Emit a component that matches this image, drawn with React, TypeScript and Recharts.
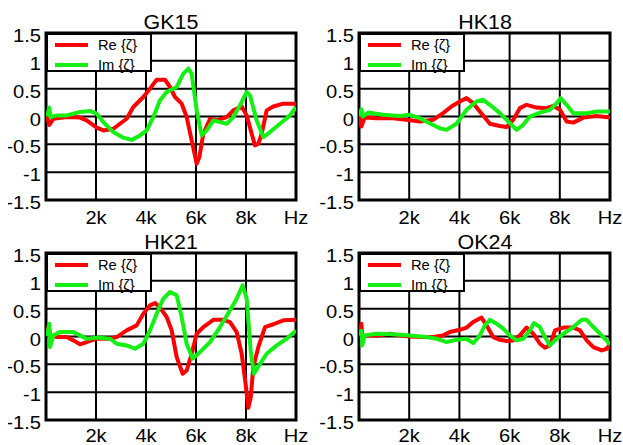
import React from 'react';
import { LineChart, Line, XAxis, YAxis, CartesianGrid, ReferenceArea } from 'recharts';

// frequency axis (Hz) and reflection-factor ticks
const xTicks = [2000, 4000, 6000, 8000, 10000];
const xTickLabels = ['2k', '4k', '6k', '8k', 'Hz'];
const yTicks = [-1.5, -1, -0.5, 0, 0.5, 1, 1.5];
const yTickLabels = ['-1.5', '-1', '-0.5', '0', '0.5', '1', '1.5'];

// GK15
const gk15ReF = [40, 133, 293, 827, 1360, 1627, 2027, 2293, 2693, 3227, 3493, 3893, 4160, 4427, 4760, 4960, 5160, 5427, 5627, 5827, 6027, 6133, 6293, 6560, 6827, 7227, 7493, 7827, 8027, 8227, 8360, 8493, 8627, 8827, 9093, 9493, 10000];
const gk15Re = [0, -0.15, -0.04, -0.01, -0.02, -0.07, -0.2, -0.25, -0.22, -0.04, 0.17, 0.35, 0.5, 0.66, 0.66, 0.53, 0.35, 0.23, -0.01, -0.43, -0.85, -0.73, -0.31, -0.04, -0.07, -0.01, 0.11, 0.18, 0.02, -0.31, -0.52, -0.49, -0.31, 0.11, 0.18, 0.23, 0.23];
const gk15ImF = [40, 133, 187, 427, 827, 1360, 1760, 2027, 2293, 2693, 3093, 3427, 3760, 4027, 4293, 4560, 4827, 5227, 5493, 5693, 5827, 6027, 6227, 6427, 6693, 6960, 7227, 7493, 7760, 8027, 8160, 8427, 8693, 8960, 9360, 9760, 10000];
const gk15Im = [0, 0.16, -0.01, 0.02, 0.02, 0.08, 0.1, 0.05, -0.1, -0.28, -0.38, -0.42, -0.34, -0.25, -0.01, 0.29, 0.44, 0.53, 0.77, 0.86, 0.77, 0.11, -0.34, -0.25, -0.07, -0.1, -0.13, -0.01, 0.2, 0.44, 0.38, -0.07, -0.37, -0.28, -0.13, 0.02, 0.17];

// HK18
const hk18ReF = [27, 93, 226, 692, 1357, 1889, 2421, 2953, 3352, 3684, 4017, 4283, 4549, 4815, 5214, 5613, 5879, 6144, 6410, 6676, 7075, 7474, 7740, 8006, 8272, 8538, 8937, 9469, 10000];
const hk18Re = [0, -0.18, -0.02, -0.03, -0.03, -0.06, -0.09, -0.06, 0.06, 0.18, 0.27, 0.33, 0.24, 0.09, -0.13, -0.17, -0.19, -0.06, 0.15, 0.21, 0.16, 0.15, 0.19, 0.12, -0.09, -0.11, -0.02, 0.01, -0.02];
const hk18ImF = [27, 93, 160, 359, 958, 1623, 2022, 2421, 2820, 3219, 3485, 3884, 4283, 4682, 4948, 5214, 5613, 6012, 6278, 6543, 6809, 7208, 7607, 7873, 8033, 8272, 8538, 9070, 9469, 10000];
const hk18Im = [0, 0.13, 0, 0.07, 0.03, 0.01, 0.03, -0.03, -0.12, -0.21, -0.24, -0.13, 0.12, 0.27, 0.3, 0.21, 0.06, -0.12, -0.24, -0.15, 0, 0.07, 0.12, 0.24, 0.33, 0.21, 0.06, 0.06, 0.09, 0.09];

// HK21
const hk21ReF = [40, 120, 160, 427, 827, 1093, 1360, 1627, 2027, 2560, 2827, 3227, 3627, 3893, 4160, 4360, 4560, 4827, 5027, 5227, 5467, 5627, 5827, 6027, 6293, 6693, 7093, 7360, 7627, 7827, 7987, 8093, 8187, 8293, 8493, 8760, 9093, 9493, 10000];
const hk21Re = [0.05, 0.2, 0.02, -0.01, -0.01, -0.07, -0.14, -0.1, -0.04, -0.04, -0.01, 0.11, 0.2, 0.41, 0.56, 0.6, 0.52, 0.35, 0.11, -0.37, -0.67, -0.61, -0.31, 0.05, 0.17, 0.3, 0.3, 0.26, 0.08, -0.31, -0.86, -1.28, -1.1, -0.55, -0.19, 0.17, 0.22, 0.29, 0.3];
const hk21ImF = [40, 133, 160, 293, 560, 1093, 1360, 1627, 2027, 2560, 2827, 3227, 3560, 3893, 4160, 4427, 4693, 4960, 5227, 5427, 5627, 5867, 6160, 6560, 6960, 7360, 7627, 7867, 8027, 8187, 8320, 8560, 8827, 9227, 9627, 10000];
const hk21Im = [0, 0.23, -0.19, 0.02, 0.08, 0.08, 0.02, -0.04, -0.02, -0.04, -0.13, -0.16, -0.22, -0.13, 0.11, 0.41, 0.68, 0.8, 0.74, 0.35, -0.13, -0.4, -0.28, -0.1, 0.17, 0.47, 0.68, 0.92, 0.68, -0.25, -0.67, -0.49, -0.31, -0.16, -0.04, 0.11];

// OK24
const ok24ReF = [27, 93, 133, 293, 825, 1224, 1623, 2022, 2554, 2953, 3352, 3618, 4017, 4283, 4549, 4882, 5081, 5347, 5613, 5879, 6144, 6410, 6676, 6942, 7208, 7408, 7608, 7807, 8140, 8539, 8805, 9071, 9337, 9670, 9869, 10000];
const ok24Re = [0.02, 0.23, -0.01, 0.02, 0.02, 0.05, 0.02, 0, -0.01, -0.01, 0.02, 0.08, 0.12, 0.16, 0.26, 0.34, 0.2, -0.01, -0.06, -0.08, -0.07, 0.02, 0.16, 0.05, -0.13, -0.2, -0.16, 0.11, 0.16, 0.16, 0.11, -0.07, -0.19, -0.25, -0.22, -0.14];
const ok24ImF = [27, 93, 133, 226, 692, 1357, 2022, 2687, 3086, 3485, 3884, 4283, 4549, 4815, 5014, 5214, 5480, 5746, 6012, 6278, 6543, 6809, 6969, 7208, 7408, 7608, 7807, 8140, 8539, 8871, 9071, 9337, 9736, 10000];
const ok24Im = [0.02, 0.1, -0.16, 0.02, 0.05, 0.04, 0.02, -0.01, -0.04, -0.1, -0.06, -0.04, -0.12, 0.02, 0.2, 0.3, 0.23, 0.14, 0.02, -0.07, -0.04, 0.11, 0.24, 0.17, -0.01, -0.16, -0.07, 0.05, 0.17, 0.3, 0.3, 0.17, -0.01, -0.14];

const toPoints = (f: number[], v: number[]) => f.map((hz, i) => ({ hz, v: v[i] }));

const FONT = '"Liberation Sans", Arial, sans-serif';
const RED = '#ff0000';
const GREEN = '#14f014';
const seriesNames = ['Re {ζ}', 'Im {ζ}'];
const seriesColors = [RED, GREEN];

const CHART_H = 230;

const StretchText = ({ x, y, text, anchor, size, sx }: any) => (
  <text
    transform={`translate(${x},${y}) scale(${sx},1)`}
    textAnchor={anchor}
    fontSize={size}
    fontFamily={FONT}
    fill="#000"
  >
    {text}
  </text>
);

const XTick = ({ x, y, payload, dy }: any) => {
  const idx = xTicks.indexOf(payload.value);
  return <StretchText x={x} y={y + dy} text={xTickLabels[idx]} anchor="middle" size={17.5} sx={1.15} />;
};

const YTick = ({ x, y, payload }: any) => {
  const idx = yTicks.indexOf(payload.value);
  return <StretchText x={x - 5} y={y + 9} text={yTickLabels[idx]} anchor="end" size={17.5} sx={1.15} />;
};

// legend box drawn over the plot's top-left corner
const LegendBox = ({ left, top }: { left: number; top: number }) => (
  <div
    style={{
      position: 'absolute',
      left,
      top,
      width: 102,
      height: 35,
      border: '2px solid #000',
      background: '#fff',
      fontFamily: FONT,
      fontSize: 14,
    }}
  >
    {seriesNames.map((name, i) => (
      <div key={name} style={{ position: 'absolute', left: 7, top: 6 + i * 19.5, height: 16, width: 95 }}>
        <div style={{ position: 'absolute', left: 0, top: 2, width: 33, height: 4, background: seriesColors[i] }} />
        <div
          style={{
            position: 'absolute',
            left: 43,
            top: -4,
            lineHeight: '16px',
            whiteSpace: 'nowrap',
            transform: 'scaleX(1.05)',
            transformOrigin: 'left center',
          }}
        >
          {name}
        </div>
      </div>
    ))}
  </div>
);

interface PanelProps {
  title: string;
  left: number;
  top: number;
  width: number;
  axisWidth: number;
  rightMargin: number;
  labelDy: number;
  re: { hz: number; v: number }[];
  im: { hz: number; v: number }[];
}

function Panel({ title, left, top, width, axisWidth, rightMargin, labelDy, re, im }: PanelProps) {
  const plotCenter = axisWidth + (width - axisWidth - rightMargin) / 2;
  return (
    <div style={{ position: 'absolute', left, top, width, height: CHART_H }}>
      <div
        style={{
          position: 'absolute',
          left: plotCenter - 60,
          width: 120,
          top: 12,
          lineHeight: '20px',
          textAlign: 'center',
          fontFamily: FONT,
          fontSize: 19.5,
          transform: 'scaleX(1.1)',
        }}
      >
        {title}
      </div>
      <LineChart width={width} height={CHART_H} margin={{ top: 33, right: rightMargin, bottom: 0, left: 0 }}>
        <CartesianGrid stroke="#000" strokeWidth={2} />
        <XAxis
          type="number"
          dataKey="hz"
          domain={[0, 10000]}
          ticks={xTicks}
          allowDataOverflow
          height={CHART_H - 33 - 167}
          tickSize={0}
          tickMargin={0}
          tickLine={false}
          axisLine={false}
          tick={<XTick dy={labelDy} />}
          interval={0}
        />
        <YAxis
          type="number"
          domain={[-1.5, 1.5]}
          ticks={yTicks}
          allowDataOverflow
          width={axisWidth}
          tickSize={0}
          tickMargin={0}
          tickLine={false}
          axisLine={false}
          tick={<YTick />}
          interval={0}
        />
        <ReferenceArea x1={0} x2={10000} y1={-1.5} y2={1.5} fill="none" stroke="#000" strokeWidth={3} ifOverflow="visible" />
        <Line
          data={re}
          dataKey="v"
          name={seriesNames[0]}
          type="linear"
          stroke={RED}
          strokeWidth={4}
          strokeLinejoin="round"
          dot={false}
          isAnimationActive={false}
        />
        <Line
          data={im}
          dataKey="v"
          name={seriesNames[1]}
          type="linear"
          stroke={GREEN}
          strokeWidth={4}
          strokeLinejoin="round"
          dot={false}
          isAnimationActive={false}
        />
      </LineChart>
      <LegendBox left={axisWidth} top={33} />
    </div>
  );
}

export default function App() {
  return (
    <div style={{ position: 'absolute', left: 0, top: 0, width: 623, height: 445, background: '#fff', overflow: 'hidden' }}>
      <Panel title="GK15" left={8} top={0} width={303} axisWidth={38} rightMargin={15} labelDy={24} re={toPoints(gk15ReF, gk15Re)} im={toPoints(gk15ImF, gk15Im)} />
      <Panel title="HK18" left={311} top={0} width={312} axisWidth={48} rightMargin={13} labelDy={24} re={toPoints(hk18ReF, hk18Re)} im={toPoints(hk18ImF, hk18Im)} />
      <Panel title="HK21" left={8} top={220} width={303} axisWidth={38} rightMargin={15} labelDy={22} re={toPoints(hk21ReF, hk21Re)} im={toPoints(hk21ImF, hk21Im)} />
      <Panel title="OK24" left={311} top={220} width={312} axisWidth={48} rightMargin={13} labelDy={22} re={toPoints(ok24ReF, ok24Re)} im={toPoints(ok24ImF, ok24Im)} />
    </div>
  );
}
